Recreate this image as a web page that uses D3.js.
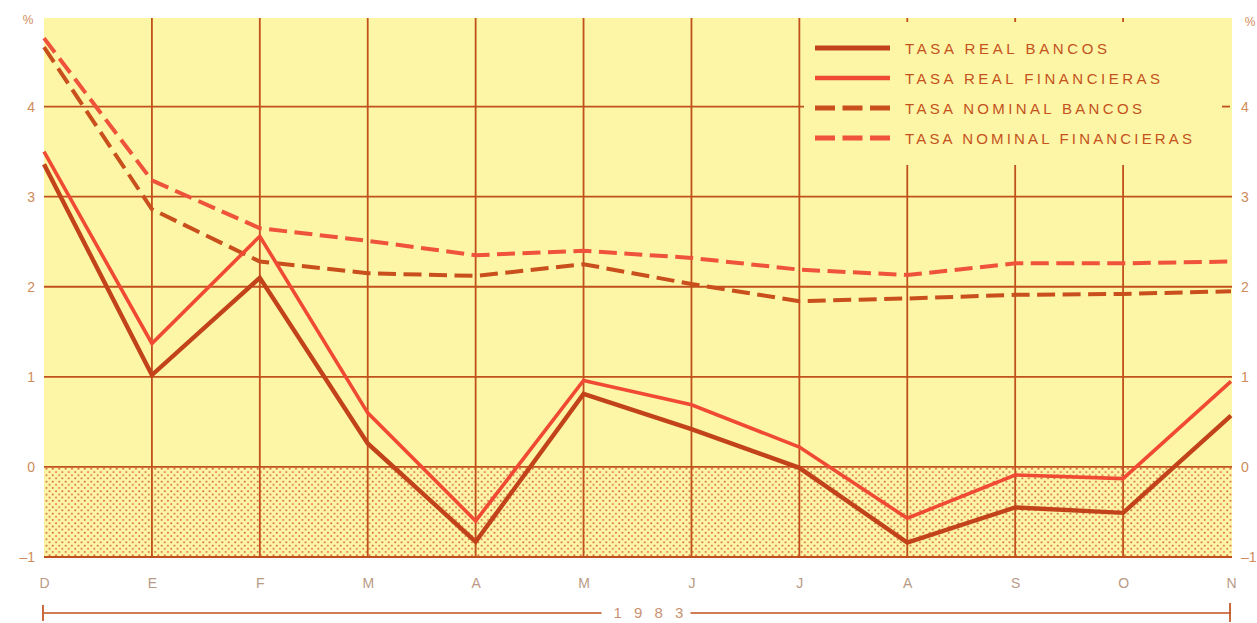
<!DOCTYPE html>
<html><head><meta charset="utf-8">
<script src="https://cdn.jsdelivr.net/npm/d3@7"></script>
<style>
html,body{margin:0;padding:0;background:#ffffff;}
svg{display:block;font-family:"Liberation Sans",Arial,sans-serif;}
</style></head>
<body>
<svg id="chart" width="1257" height="623"></svg>
<script>
const months = ["D","E","F","M","A","M","J","J","A","S","O","N"];
const yearLabel = "1 9 8 3";
const yTicks = [-1, 0, 1, 2, 3, 4];
const seriesNames = ["TASA REAL BANCOS","TASA REAL FINANCIERAS","TASA NOMINAL BANCOS","TASA NOMINAL FINANCIERAS"];
const realBancos = [3.36, 1.02, 2.10, 0.26, -0.83, 0.81, 0.42, -0.01, -0.84, -0.45, -0.51, 0.57];
const realFin    = [3.50, 1.37, 2.56, 0.60, -0.60, 0.96, 0.69, 0.22, -0.57, -0.09, -0.13, 0.95];
const nomBancos  = [4.66, 2.86, 2.28, 2.15, 2.12, 2.25, 2.03, 1.84, 1.87, 1.91, 1.92, 1.95];
const nomFin     = [4.76, 3.18, 2.65, 2.51, 2.35, 2.40, 2.32, 2.19, 2.13, 2.26, 2.26, 2.28];

const svg = d3.select("#chart");
const x = d3.scaleLinear().domain([0, months.length - 1]).range([44, 1231]);
const y = d3.scaleLinear().domain([-1, 5]).range([557, 16.5]);
const xL = 44, xR = 1232;
const grid = "#c0501c";
const bg = "#fdf6a6";

// pattern for negative zone
const defs = svg.append("defs");
const pat = defs.append("pattern").attr("id","dots").attr("patternUnits","userSpaceOnUse")
  .attr("width", 6.4).attr("height", 6.4);
pat.append("rect").attr("width",6.4).attr("height",6.4).attr("fill", bg);
pat.append("circle").attr("cx",1.6).attr("cy",1.6).attr("r",1.0).attr("fill","#d0603c");
pat.append("circle").attr("cx",4.8).attr("cy",4.8).attr("r",1.0).attr("fill","#d0603c");

// background
svg.append("rect").attr("x", xL).attr("y", 18).attr("width", xR - xL).attr("height", y(-1) - 18).attr("fill", bg);
svg.append("rect").attr("x", xL).attr("y", y(0)).attr("width", xR - xL).attr("height", y(-1) - y(0)).attr("fill", "url(#dots)");

// horizontal gridlines
svg.append("g").selectAll("line").data(yTicks).join("line")
  .attr("x1", xL).attr("x2", xR)
  .attr("y1", d => y(d)).attr("y2", d => y(d))
  .attr("stroke", grid).attr("stroke-width", 1.8);

// vertical gridlines (interior months)
svg.append("g").selectAll("line").data(d3.range(1, months.length - 1)).join("line")
  .attr("x1", d => x(d)).attr("x2", d => x(d))
  .attr("y1", 18).attr("y2", y(-1))
  .attr("stroke", grid).attr("stroke-width", 1.8);

// legend box (covers grid)
const lgX = 804, lgY = 22, lgB = 165;
svg.append("rect").attr("x", lgX).attr("y", lgY).attr("width", xR - lgX).attr("height", lgB - lgY).attr("fill", bg);
svg.append("line").attr("x1", 1222).attr("x2", 1230).attr("y1", y(4)).attr("y2", y(4)).attr("stroke", grid).attr("stroke-width", 1.8);

// series
const line = d3.line().x((d,i) => x(i)).y(d => y(d));
const series = [
  {v: nomBancos, c: "#c94f1d", w: 4, dash: "18,7.5"},
  {v: nomFin, c: "#f0533b", w: 4, dash: "18,7.5"},
  {v: realFin, c: "#f04a34", w: 3.6, dash: null},
  {v: realBancos, c: "#c2431a", w: 4.4, dash: null}
];
svg.append("g").selectAll("path").data(series).join("path")
  .attr("d", d => line(d.v)).attr("fill","none")
  .attr("stroke", d => d.c).attr("stroke-width", d => d.w)
  .attr("stroke-dasharray", d => d.dash).attr("stroke-linejoin","miter");

// legend
const legend = [
  {name: seriesNames[0], c: "#c2431a", w: 5, dash: null, tl: 202},
  {name: seriesNames[1], c: "#f04a34", w: 4.5, dash: null, tl: 255},
  {name: seriesNames[2], c: "#c94f1d", w: 5, dash: "20,7.5", tl: 237},
  {name: seriesNames[3], c: "#f0533b", w: 5, dash: "20,7.5", tl: 287}
];
const lg = svg.append("g").selectAll("g").data(legend).join("g")
  .attr("transform", (d,i) => `translate(815,${48 + i*30})`);
lg.append("line").attr("x1", 0).attr("x2", 75).attr("y1", 0).attr("y2", 0)
  .attr("stroke", d => d.c).attr("stroke-width", d => d.w).attr("stroke-dasharray", d => d.dash);
lg.append("text").attr("x", 90).attr("y", 6).text(d => d.name)
  .attr("font-size", 15).attr("fill", "#c4521c")
  .attr("textLength", d => d.tl).attr("lengthAdjust", "spacing");

// axes
const axisColor = "#d08c5a";
const fmt = d => d < 0 ? "\u2013" + Math.abs(d) : String(d);
const yl = svg.append("g").attr("transform", `translate(${xL},0)`)
  .call(d3.axisLeft(y).tickValues(yTicks).tickSize(0).tickPadding(9).tickFormat(fmt));
yl.select(".domain").remove();
yl.selectAll("text").attr("fill", axisColor).attr("font-size", 14).attr("font-family", "Liberation Sans, Arial, sans-serif");
const yr = svg.append("g").attr("transform", `translate(${xR},0)`)
  .call(d3.axisRight(y).tickValues(yTicks).tickSize(0).tickPadding(9).tickFormat(fmt));
yr.select(".domain").remove();
yr.selectAll("text").attr("fill", axisColor).attr("font-size", 14).attr("font-family", "Liberation Sans, Arial, sans-serif");
svg.append("text").attr("x", 28).attr("y", 24).attr("text-anchor","middle").attr("fill", axisColor).attr("font-size", 12).text("%");
svg.append("text").attr("x", 1250).attr("y", 26).attr("text-anchor","middle").attr("fill", axisColor).attr("font-size", 12).text("%");

const xa = svg.append("g").attr("transform", `translate(0,${y(-1)})`)
  .call(d3.axisBottom(x).tickValues(d3.range(months.length)).tickSize(0).tickPadding(21).tickFormat(i => months[i]));
xa.select(".domain").remove();
xa.selectAll("text").attr("fill", "#b89a86").attr("font-size", 14).attr("font-family", "Liberation Sans, Arial, sans-serif");

// year bracket
const yb = 613;
const midX = (x(0) + x(months.length - 1)) / 2;
svg.append("line").attr("x1", x(0)).attr("x2", midX - 36).attr("y1", yb).attr("y2", yb).attr("stroke", grid).attr("stroke-width", 1.7);
svg.append("line").attr("x1", midX + 53).attr("x2", x(months.length - 1)).attr("y1", yb).attr("y2", yb).attr("stroke", grid).attr("stroke-width", 1.7);
svg.append("line").attr("x1", x(0) - 1).attr("x2", x(0) - 1).attr("y1", yb - 8).attr("y2", yb + 8).attr("stroke", grid).attr("stroke-width", 1.7);
svg.append("line").attr("x1", x(months.length - 1) - 1).attr("x2", x(months.length - 1) - 1).attr("y1", yb - 10).attr("y2", yb + 9).attr("stroke", grid).attr("stroke-width", 1.7);
svg.append("text").attr("x", midX + 13).attr("y", yb + 5).attr("text-anchor","middle")
  .attr("fill", "#c89272").attr("font-size", 15).attr("letter-spacing", 4).text(yearLabel);
</script>
</body></html>
